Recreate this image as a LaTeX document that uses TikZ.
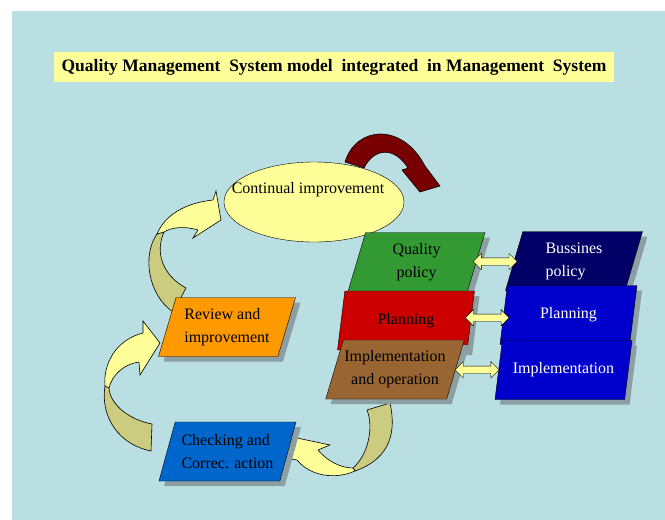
\documentclass[tikz,border=0pt]{standalone}
\usepackage{fontspec}
\setmainfont{Liberation Serif}
\usetikzlibrary{shapes.geometric,shapes.arrows,shadows}

\definecolor{bgblue}{RGB}{186,223,227}
\definecolor{shadowgray}{RGB}{140,160,163}
\definecolor{ylw}{RGB}{255,255,153}
\definecolor{dkylw}{RGB}{204,204,128}
\definecolor{dkred}{RGB}{120,0,0}
\definecolor{qgreen}{RGB}{51,153,51}
\definecolor{qred}{RGB}{204,0,0}
\definecolor{qbrown}{RGB}{153,102,51}
\definecolor{qnavy}{RGB}{0,0,102}
\definecolor{qblue}{RGB}{0,0,204}
\definecolor{qorange}{RGB}{255,153,0}
\definecolor{qsky}{RGB}{0,102,204}

\begin{document}
\begin{tikzpicture}[x=1pt,y=-1pt,
    para/.style={shape=trapezium, trapezium left angle=66, trapezium right angle=114,
        trapezium stretches body, draw=black, minimum width=137pt, minimum height=59pt,
        inner sep=1pt, align=center, font=\fontsize{16}{23}\selectfont,
        drop shadow={opacity=1, fill=shadowgray, shadow xshift=5pt, shadow yshift=-5pt}},
    dblarrow/.style={double arrow, draw=black, fill=ylw, minimum height=44pt,
        inner sep=3.5pt, double arrow head extend=4.5pt},
    bentarrow/.style={draw=black, line width=0.6pt}]
        \useasboundingbox (0,0) rectangle (665,520);
        \fill[bgblue] (12,11) rectangle (665,520);

        \node [fill=ylw, minimum width=560pt, minimum height=30pt, font=\bfseries\fontsize{17.5}{20}\selectfont] (title) at (334,67) {Quality Management\ \ System model\ \ integrated\ \ in Management\ \ System};

        % roter Pfeil oben
        \draw[bentarrow, fill=dkred] (345,162) .. controls (356,126) and (402,122) .. (425,166) -- (440,186) -- (420,192) -- (402,170) -- (408,168) .. controls (394,146) and (374,148) .. (364,168) -- cycle;

        \node [ellipse, draw=black, fill=ylw, minimum width=180pt, minimum height=80pt] (contimp) at (314,202) {};
        \node [font=\fontsize{16}{20}\selectfont] (contimptext) at (308,190) {Continual improvement};

        % gebogene Pfeile
        \draw[bentarrow, fill=dkylw] (173,312) .. controls (148,295) and (142,255) .. (157,234) -- (164,232) .. controls (155,252) and (162,275) .. (186,288) -- cycle;
        \draw[bentarrow, fill=ylw] (157,234) .. controls (165,215) and (185,203) .. (213,200) -- (216,191) -- (221,220) -- (193,238) -- (198,230) .. controls (185,226) and (172,227) .. (164,232) -- cycle;

        \draw[bentarrow, fill=dkylw] (152,424) -- (151,451) .. controls (120,445) and (100,418) .. (105,386) -- (109,388) .. controls (110,405) and (130,420) .. (152,424) -- cycle;
        \draw[bentarrow, fill=ylw] (105,386) .. controls (103,365) and (115,340) .. (143,333) -- (143,321) -- (160,343) -- (140,375) -- (139,362) .. controls (124,364) and (112,375) .. (109,388) -- cycle;

        \draw[bentarrow, fill=dkylw] (367,410) -- (390,403) .. controls (396,430) and (392,458) .. (355,471) -- (353,468) .. controls (368,455) and (374,428) .. (367,410) -- cycle;
        \draw[bentarrow, fill=ylw] (355,471) .. controls (335,480) and (310,476) .. (297,460) -- (285,458) -- (297,438) -- (330,445) -- (318,450) .. controls (328,462) and (342,468) .. (353,468) -- cycle;

        % Kasten links
        \node [para, fill=qorange, align=left] (review) at (227,327) {Review and\\improvement};
        \node [para, fill=qsky, align=left] (check) at (227.5,451.5) {Checking and\\Correc. action};

        % Kasten Mitte
        \node [para, fill=qgreen] (qpolicy) at (416.5,262) {Quality\\policy};
        \node [para, fill=qred] (qplan) at (406,320.5) {Planning};
        \node [para, fill=qbrown] (qimpl) at (395,369.5) {Implementation\\and operation};

        % Kasten rechts
        \node [para, fill=qnavy, text=white, align=left] (bpolicy) at (574,261) {Bussines\\policy};
        \node [para, fill=qblue, text=white] (bplan) at (568.5,315) {Planning};
        \node [para, fill=qblue, text=white] (bimpl) at (563.5,370) {Implementation};

        % Doppelpfeile
        \path (qpolicy.east) -- node[dblarrow] (arpolicy) {} (bpolicy.west);
        \path (qplan.east) -- node[dblarrow] (arplan) {} (bplan.west);
        \path (qimpl.east) -- node[dblarrow] (arimpl) {} (bimpl.west);
\end{tikzpicture}
\end{document}
